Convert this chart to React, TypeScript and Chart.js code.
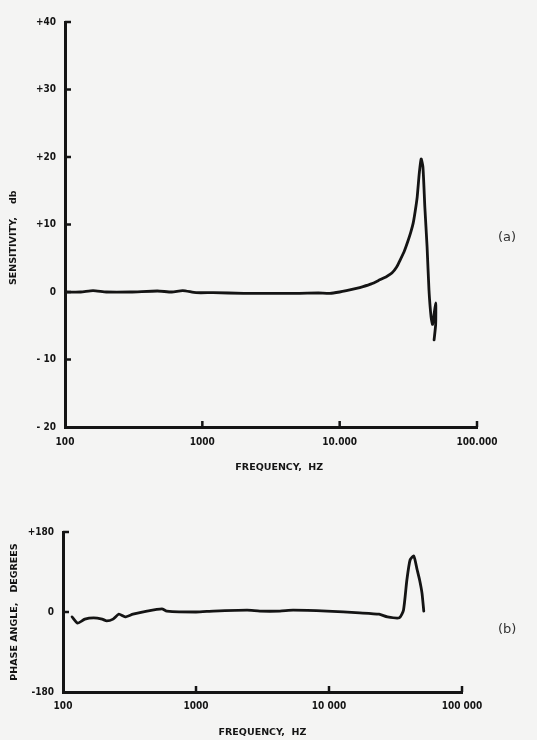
import React, { useEffect, useRef } from "react";
import { Chart, registerables } from "chart.js";

Chart.register(...registerables);

// ---- data ----
const freqTicks = [100, 1000, 10000, 100000];
const freqTickLabelsA = ["100", "1000", "10.000", "100.000"];
const freqTickLabelsB = ["100", "1000", "10 000", "100 000"];

const dbTicks = [-20, -10, 0, 10, 20, 30, 40];
const dbTickLabels = ["- 20", "- 10", "0", "+10", "+20", "+30", "+40"];

const phaseTicks = [-180, 0, 180];
const phaseTickLabels = ["-180", "0", "+180"];

const freqA = [100, 130, 160, 200, 300, 470, 600, 720, 900, 1200, 2000, 3000, 5000, 7000, 8500, 10000, 11200, 13000, 14800, 17000, 19600, 22000, 24000, 26000, 27500, 29500, 31600, 33000, 34300, 35500, 36700, 38000, 39200, 40400, 41700, 43300, 44700, 46300, 47500, 50000, 50000, 48700];
const dbA = [0, 0, 0.2, 0, 0, 0.15, 0, 0.2, -0.1, -0.1, -0.2, -0.2, -0.2, -0.15, -0.2, 0, 0.2, 0.5, 0.8, 1.2, 1.8, 2.3, 2.8, 3.7, 4.7, 6.0, 7.7, 8.9, 10.2, 12.0, 14.1, 17.6, 19.7, 18.5, 12.6, 6.7, 0.3, -3.7, -4.8, -1.6, -4.8, -7.1];

const freqB = [117, 129, 146, 170, 197, 213, 238, 263, 293, 336, 428, 554, 603, 1000, 1350, 2420, 3020, 4270, 5370, 9660, 17000, 23800, 27500, 33800, 36300, 38500, 40700, 43400, 46000, 48000, 50000, 51600];
const phaseB = [-11, -25, -16, -13, -16, -20, -16, -5, -11, -5, 2, 7, 2, 0, 2, 4, 2, 2, 4, 2, -2, -5, -11, -13, 4, 72, 117, 126, 95, 72, 43, 2];

// ---- styles ----
const INK = "#141414";
const COND = "'DejaVu Sans Condensed', 'Liberation Sans Narrow', 'DejaVu Sans', sans-serif";
const WIDE = "'DejaVu Sans', 'Liberation Sans', sans-serif";
const tickFont = { family: COND, size: 10, weight: "bold" as const };
const titleFont = { family: WIDE, size: 9.5, weight: "bold" as const };

const inwardTicks = {
  id: "inwardTicks",
  afterDatasetsDraw(chart: any, _args: any, opts: any) {
    const { ctx, chartArea, scales } = chart;
    ctx.save();
    ctx.strokeStyle = INK;
    ctx.lineWidth = 2.5;
    const len = 6;
    for (const v of opts.x || []) {
      const px = scales.x.getPixelForValue(v);
      ctx.beginPath();
      ctx.moveTo(px, chartArea.bottom);
      ctx.lineTo(px, chartArea.bottom - len);
      ctx.stroke();
    }
    for (const v of opts.y || []) {
      const py = scales.y.getPixelForValue(v);
      ctx.beginPath();
      ctx.moveTo(chartArea.left, py);
      ctx.lineTo(chartArea.left + len, py);
      ctx.stroke();
    }
    ctx.restore();
  },
};

function makeConfig(p: {
  xs: number[];
  ys: number[];
  xLabels: string[];
  xTitle: string;
  yTicks: number[];
  yLabels: string[];
  yTitle: string;
  yMin: number;
  yMax: number;
  yWidth: number;
  xHeight: number;
  xTickPad: number;
  xTitlePadBottom: number;
  yTitlePadTop: number;
  padTop: number;
  padRight: number;
  inX: number[];
  inY: number[];
}): any {
  return {
    type: "scatter",
    data: {
      datasets: [
        {
          data: p.xs.map((x, i) => ({ x, y: p.ys[i] })),
          showLine: true,
          borderColor: INK,
          borderWidth: 2.8,
          pointRadius: 0,
          tension: 0.2,
          borderJoinStyle: "round",
          borderCapStyle: "round",
        },
      ],
    },
    options: {
      animation: false,
      responsive: false,
      layout: { padding: { top: p.padTop, right: p.padRight, left: 0, bottom: 0 } },
      plugins: {
        legend: { display: false },
        tooltip: { enabled: false },
        inwardTicks: { x: p.inX, y: p.inY },
      },
      scales: {
        x: {
          type: "logarithmic",
          min: 100,
          max: 100000,
          afterBuildTicks: (s: any) => {
            s.ticks = freqTicks.map((v) => ({ value: v }));
          },
          afterFit: (s: any) => {
            s.height = p.xHeight;
          },
          ticks: {
            autoSkip: false,
            maxRotation: 0,
            padding: p.xTickPad,
            color: INK,
            font: tickFont,
            callback: (v: any) => {
              const i = freqTicks.indexOf(Number(v));
              return i >= 0 ? p.xLabels[i] : "";
            },
          },
          grid: { display: true, drawOnChartArea: false, drawTicks: false, color: "rgba(0,0,0,0)" },
          border: { display: true, color: INK, width: 3 },
          title: {
            display: true,
            text: p.xTitle,
            color: INK,
            font: titleFont,
            padding: { top: 0, bottom: p.xTitlePadBottom },
          },
        },
        y: {
          type: "linear",
          min: p.yMin,
          max: p.yMax,
          afterBuildTicks: (s: any) => {
            s.ticks = p.yTicks.map((v) => ({ value: v }));
          },
          afterFit: (s: any) => {
            s.width = p.yWidth;
          },
          ticks: {
            autoSkip: false,
            padding: 9,
            color: INK,
            font: tickFont,
            callback: (v: any) => {
              const i = p.yTicks.indexOf(Number(v));
              return i >= 0 ? p.yLabels[i] : "";
            },
          },
          grid: { display: true, drawOnChartArea: false, drawTicks: false, color: "rgba(0,0,0,0)" },
          border: { display: true, color: INK, width: 3 },
          title: {
            display: true,
            text: p.yTitle,
            color: INK,
            font: titleFont,
            padding: { top: p.yTitlePadTop, bottom: 0 },
          },
        },
      },
    },
    plugins: [inwardTicks],
  };
}

function ChartCanvas(props: { config: any; width: number; height: number; top: number }) {
  const ref = useRef<HTMLCanvasElement | null>(null);
  useEffect(() => {
    if (!ref.current) return;
    const chart = new Chart(ref.current, props.config);
    return () => chart.destroy();
  }, []);
  return (
    <canvas
      ref={ref}
      width={props.width}
      height={props.height}
      style={{ position: "absolute", left: 0, top: props.top, width: props.width, height: props.height }}
    />
  );
}

export default function App() {
  const configA = makeConfig({
    xs: freqA,
    ys: dbA,
    xLabels: freqTickLabelsA,
    xTitle: "     FREQUENCY,  HZ",
    yTicks: dbTicks,
    yLabels: dbTickLabels,
    yTitle: "SENSITIVITY,    db        ",
    yMin: -20,
    yMax: 40,
    yWidth: 65,
    xHeight: 63,
    xTickPad: 9,
    xTitlePadBottom: 17,
    yTitlePadTop: 8,
    padTop: 22,
    padRight: 60,
    inX: [1000, 10000, 100000],
    inY: [-10, 0, 10, 20, 30, 40],
  });
  const configB = makeConfig({
    xs: freqB,
    ys: phaseB,
    xLabels: freqTickLabelsB,
    xTitle: "FREQUENCY,  HZ",
    yTicks: phaseTicks,
    yLabels: phaseTickLabels,
    yTitle: "PHASE ANGLE,   DEGREES",
    yMin: -180,
    yMax: 180,
    yWidth: 63,
    xHeight: 48,
    xTickPad: 8,
    xTitlePadBottom: 2,
    yTitlePadTop: 9,
    padTop: 32,
    padRight: 75,
    inX: [1000, 10000, 100000],
    inY: [0, 180],
  });
  const labelStyle: React.CSSProperties = {
    position: "absolute",
    fontFamily: "'DejaVu Sans', sans-serif",
    fontSize: 13,
    color: "#333",
    lineHeight: "14px",
  };
  return (
    <div
      style={{
        position: "absolute",
        left: 0,
        top: 0,
        width: 537,
        height: 740,
        background: "#f4f4f3",
        overflow: "hidden",
      }}
    >
      <ChartCanvas config={configA} width={537} height={490} top={0} />
      <ChartCanvas config={configB} width={537} height={240} top={500} />
      <div style={{ ...labelStyle, left: 498, top: 230 }}>(a)</div>
      <div style={{ ...labelStyle, left: 498, top: 622 }}>(b)</div>
    </div>
  );
}
